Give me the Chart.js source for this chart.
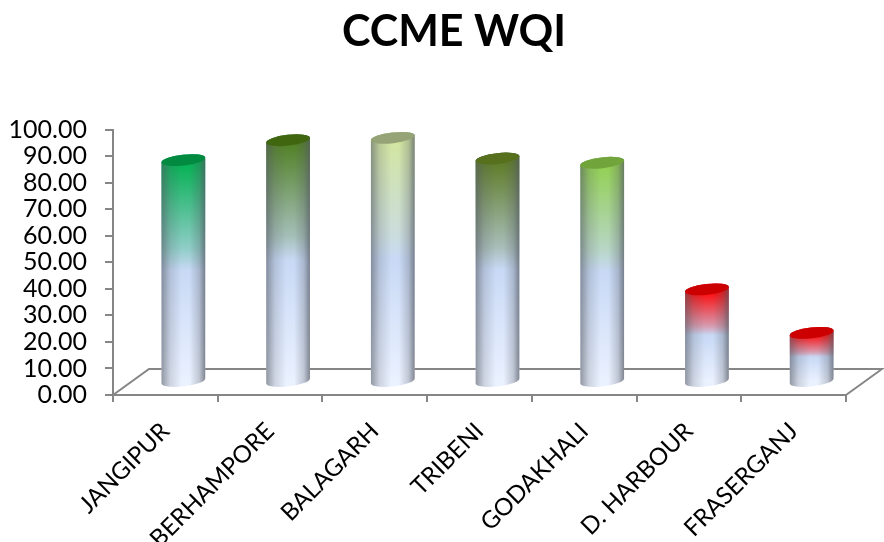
<!DOCTYPE html>
<html>
<head>
<meta charset="utf-8">
<style>
  html, body { margin: 0; padding: 0; background: #fff; overflow: hidden; }
  #box { width: 884px; height: 542px; }
</style>
<script src="https://cdn.jsdelivr.net/npm/chart.js@4"></script>
</head>
<body>
<div id="box"><canvas id="c" width="884" height="542"></canvas></div>
<script>
const stations = ['JANGIPUR', 'BERHAMPORE', 'BALAGARH', 'TRIBENI', 'GODAKHALI', 'D. HARBOUR', 'FRASERGANJ'];
const wqi = [83.6, 91.1, 92.0, 84.2, 82.6, 34.9, 18.5];
const bodyColours = ['#00b050', '#4f7f20', '#d3e69f', '#5c7a22', '#92d050', '#ff0000', '#ff0000'];
const capColours = ['#038a41', '#40660f', '#95a376', '#56701d', '#71a53c', '#cc0000', '#cc0000'];
const yTicks = [0, 10, 20, 30, 40, 50, 60, 70, 80, 90, 100];

const AXIS = '#868686';
const FONT = 'Lato, "Open Sans", sans-serif';
const DEPTH_X = 36, DEPTH_Y = 26;       // floor depth of the 3D box
const RX = 22, RY = 5.4, TILT = -0.113; // cylinder end ellipses

// The title is centred a little right of the page, over the plot and its labels.
const titleSpan = {
  id: 'titleSpan',
  afterLayout(chart) {
    chart.titleBlock.left = 62;
    chart.titleBlock.right = 846;
  }
};

const floor3d = {
  id: 'floor3d',
  beforeDatasetsDraw(chart) {
    const { ctx, chartArea: a } = chart;
    ctx.save();
    ctx.strokeStyle = AXIS;
    ctx.lineWidth = 2;
    ctx.beginPath();
    ctx.moveTo(a.left, a.bottom);
    ctx.lineTo(a.left + DEPTH_X, a.bottom - DEPTH_Y);
    ctx.lineTo(a.right + DEPTH_X, a.bottom - DEPTH_Y);
    ctx.lineTo(a.right, a.bottom);
    ctx.stroke();
    ctx.restore();
  }
};

const cylinders = {
  id: 'cylinders',
  afterDatasetsDraw(chart) {
    const { ctx } = chart;
    chart.getDatasetMeta(0).data.forEach((bar, i) => {
      const x = bar.x + DEPTH_X / 2;
      const top = bar.y - DEPTH_Y / 2;
      const base = bar.base - DEPTH_Y / 2;
      const outline = () => {
        ctx.beginPath();
        ctx.ellipse(x, base, RX, RY, TILT, Math.PI, 0, true);
        ctx.ellipse(x, top, RX, RY, TILT, 0, Math.PI, true);
        ctx.closePath();
      };
      ctx.save();

      // pale blue body, paler towards the floor
      const body = ctx.createLinearGradient(0, top, 0, base);
      body.addColorStop(0, '#c4d6f4');
      body.addColorStop(0.5, '#c8d9f5');
      body.addColorStop(1, '#eaf1ff');
      outline();
      ctx.fillStyle = body;
      ctx.fill();

      // station colour washing out towards mid height
      const wash = ctx.createLinearGradient(0, top, 0, base);
      wash.addColorStop(0, bodyColours[i] + 'ff');
      wash.addColorStop(0.4, bodyColours[i] + '48');
      wash.addColorStop(0.5, bodyColours[i] + '00');
      outline();
      ctx.fillStyle = wash;
      ctx.fill();

      // rounded shading across the width
      const side = ctx.createLinearGradient(x - RX, 0, x + RX, 0);
      side.addColorStop(0, 'rgba(85,90,100,0.6)');
      side.addColorStop(0.2, 'rgba(85,90,100,0.2)');
      side.addColorStop(0.46, 'rgba(85,90,100,0)');
      side.addColorStop(0.64, 'rgba(85,90,100,0)');
      side.addColorStop(0.86, 'rgba(85,90,100,0.28)');
      side.addColorStop(1, 'rgba(85,90,100,0.72)');
      outline();
      ctx.fillStyle = side;
      ctx.fill();

      ctx.beginPath();
      ctx.ellipse(x, top, RX, RY, TILT, 0, Math.PI * 2);
      ctx.fillStyle = capColours[i];
      ctx.fill();
      ctx.restore();
    });
  }
};

new Chart(document.getElementById('c'), {
  type: 'bar',
  data: {
    labels: stations,
    datasets: [{
      label: 'CCME WQI',
      data: wqi,
      backgroundColor: 'transparent',
      borderWidth: 0,
      barThickness: 44
    }]
  },
  plugins: [titleSpan, floor3d, cylinders],
  options: {
    responsive: false,
    animation: false,
    layout: { padding: { left: 0, right: 38, top: 0, bottom: 0 } },
    plugins: {
      legend: { display: false },
      tooltip: { enabled: false },
      title: {
        display: true,
        text: 'CCME WQI',
        color: '#000',
        font: { family: FONT, size: 43, weight: 'bold' },
        padding: { top: 6, bottom: 72 }
      }
    },
    scales: {
      x: {
        grid: { drawOnChartArea: false, color: AXIS, lineWidth: 2, tickLength: 7, offset: true },
        border: { color: AXIS, width: 2 },
        ticks: {
          color: '#000',
          font: { family: FONT, size: 24 },
          minRotation: 45,
          maxRotation: 45,
          autoSkip: false,
          padding: 15
        },
        afterFit(s) {
          s.paddingLeft = 0;
          s.paddingRight = 0;
          s.height = 147;
        }
      },
      y: {
        min: 0,
        max: 100,
        afterBuildTicks(s) { s.ticks = yTicks.map(v => ({ value: v })); },
        grid: { drawOnChartArea: false, color: AXIS, lineWidth: 2, tickLength: 8 },
        border: { color: AXIS, width: 2 },
        ticks: {
          color: '#000',
          font: { family: FONT, size: 25 },
          padding: 18,
          autoSkip: false,
          callback: v => Number(v).toFixed(2)
        },
        afterFit(s) { s.width = 113; }
      }
    }
  }
});
</script>
</body>
</html>
